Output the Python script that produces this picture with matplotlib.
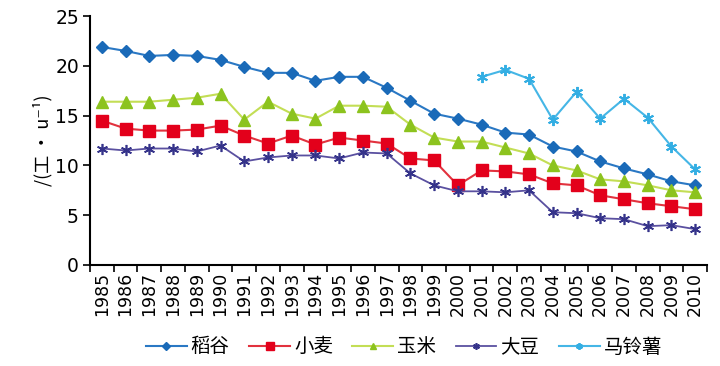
import matplotlib
matplotlib.use("Agg")
import matplotlib.pyplot as plt
import numpy as np

plt.rcParams["font.family"] = ["DejaVu Sans", "Noto Sans CJK SC"]
CJK = ["Noto Sans CJK SC", "DejaVu Sans"]

years = list(range(1985, 2011))

rice = [21.9, 21.5, 21.0, 21.1, 21.0, 20.6, 19.9, 19.3, 19.3, 18.5, 18.9, 18.9, 17.8,
        16.5, 15.2, 14.7, 14.1, 13.3, 13.1, 11.9, 11.4, 10.4, 9.7, 9.1, 8.4, 8.0]
wheat = [14.5, 13.7, 13.5, 13.5, 13.6, 14.0, 13.0, 12.2, 13.0, 12.1, 12.8, 12.5, 12.2,
         10.7, 10.5, 8.0, 9.5, 9.4, 9.1, 8.2, 8.0, 7.0, 6.6, 6.2, 5.9, 5.6]
corn = [16.4, 16.4, 16.4, 16.6, 16.8, 17.2, 14.6, 16.4, 15.2, 14.7, 16.0, 16.0, 15.9,
        14.1, 12.8, 12.4, 12.4, 11.8, 11.2, 10.0, 9.5, 8.6, 8.4, 8.0, 7.5, 7.3]
soybean = [11.7, 11.5, 11.7, 11.7, 11.4, 12.0, 10.4, 10.8, 11.0, 11.0, 10.7, 11.3, 11.2,
           9.2, 8.0, 7.4, 7.4, 7.3, 7.5, 5.3, 5.2, 4.7, 4.6, 3.9, 4.0, 3.6]
potato_years = list(range(2001, 2011))
potato = [18.9, 19.6, 18.7, 14.6, 17.4, 14.7, 16.7, 14.8, 11.9, 9.6]

labels = ["稻谷", "小麦", "玉米", "大豆", "马铃薯"]

fig = plt.figure(figsize=(7.2, 3.66), dpi=100)
ax = fig.add_axes([0.125, 0.276, 0.857, 0.680])

star = (6, 2, 0)
ax.plot(years, rice, color="#2A78C4", lw=1.5, marker="D", ms=6.5,
        mfc="#1A6AB8", mec="#1A6AB8", label=labels[0])
ax.plot(years, wheat, color="#E2323E", lw=1.5, marker="s", ms=8.5,
        mfc="#E3001B", mec="#E3001B", label=labels[1])
ax.plot(years, corn, color="#C3DE55", lw=1.5, marker="^", ms=8,
        mfc="#8CC31E", mec="#8CC31E", label=labels[2])
ax.plot(years, soybean, color="#5A50A0", lw=1.3, marker=star, ms=8, mew=1.2,
        mec="#35338A", label=labels[3])
ax.plot(potato_years, potato, color="#45B6E6", lw=1.5, marker=star, ms=8, mew=1.4,
        mec="#33AEE3", label=labels[4])

ax.set_xlim(1984.5, 2010.5)
ax.set_ylim(0, 25)
ax.set_yticks([0, 5, 10, 15, 20, 25])
ax.set_xticks(years)
ax.set_xticklabels([str(y) for y in years], rotation=90, fontsize=12.5)
ax.set_xticks(np.arange(1984.5, 2011, 1.0), minor=True)
ax.tick_params(axis="x", which="major", length=0, pad=5)
ax.tick_params(axis="x", which="minor", length=5, width=1.2, direction="out")
ax.tick_params(axis="y", length=5, width=1.2, labelsize=13.5, pad=3)

for s in ["top", "right"]:
    ax.spines[s].set_visible(False)
for s in ["left", "bottom"]:
    ax.spines[s].set_linewidth(1.5)

ax.set_ylabel("/(工 · u⁻¹)", family=CJK, fontsize=13, labelpad=2)

fig.legend(loc="center", bbox_to_anchor=(404 / 720, 0.052), ncol=5, frameon=False,
           prop={"family": CJK, "size": 14}, handlelength=2.1, handletextpad=0.2,
           columnspacing=1.0, markerscale=0.6)

fig.savefig("out.png", dpi=100)
